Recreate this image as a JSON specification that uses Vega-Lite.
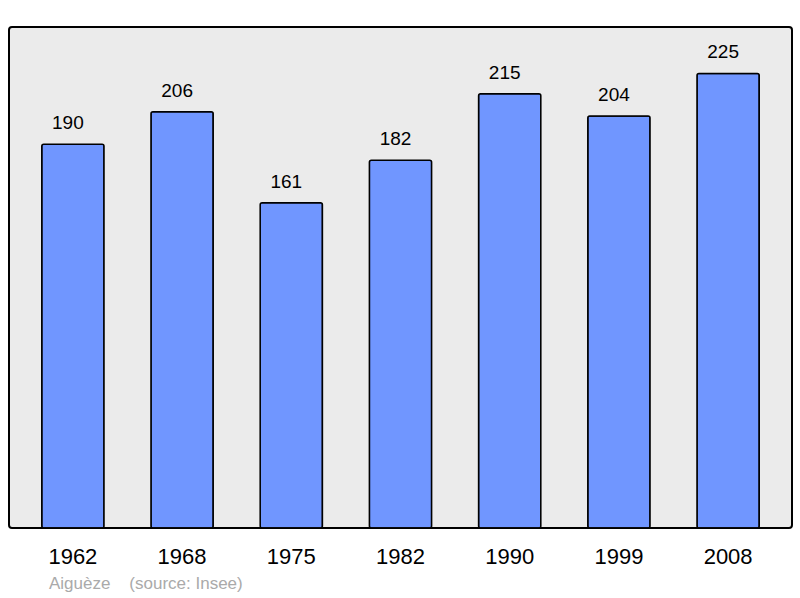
{
  "$schema": "https://vega.github.io/schema/vega-lite/v6.json",
  "width": 783,
  "height": 501,
  "autosize": "none",
  "padding": {"left": 9, "top": 27, "right": 8, "bottom": 70},
  "background": "white",
  "config": {
    "view": {"fill": "#ebebeb", "stroke": "black", "strokeWidth": 2, "cornerRadius": 3},
    "font": "Liberation Sans"
  },
  "title": {
    "text": "Aiguèze\u00a0\u00a0\u00a0\u00a0(source: Insee)",
    "orient": "bottom",
    "anchor": "start",
    "dx": 40,
    "offset": 9,
    "fontSize": 17,
    "fontWeight": "normal",
    "color": "#aaaaaa",
    "font": "Liberation Sans"
  },
  "data": {
    "values": [
      {"year": "1962", "population": 190},
      {"year": "1968", "population": 206},
      {"year": "1975", "population": 161},
      {"year": "1982", "population": 182},
      {"year": "1990", "population": 215},
      {"year": "1999", "population": 204},
      {"year": "2008", "population": 225}
    ]
  },
  "encoding": {
    "x": {
      "field": "year",
      "type": "ordinal",
      "scale": {"paddingInner": 0.43, "paddingOuter": 0.3},
      "axis": {
        "title": null,
        "labelAngle": 0,
        "ticks": false,
        "domain": false,
        "labelFontSize": 22,
        "labelColor": "black",
        "labelPadding": 18
      }
    },
    "y": {
      "field": "population",
      "type": "quantitative",
      "scale": {"domain": [0, 248]},
      "axis": null
    }
  },
  "layer": [
    {
      "mark": {"type": "bar", "fill": "#7096ff", "stroke": "black", "strokeWidth": 1.5, "cornerRadius": 2}
    },
    {
      "mark": {"type": "text", "baseline": "alphabetic", "dy": -15, "dx": -5, "fontSize": 19, "color": "black"},
      "encoding": {"text": {"field": "population", "type": "quantitative"}}
    }
  ]
}
